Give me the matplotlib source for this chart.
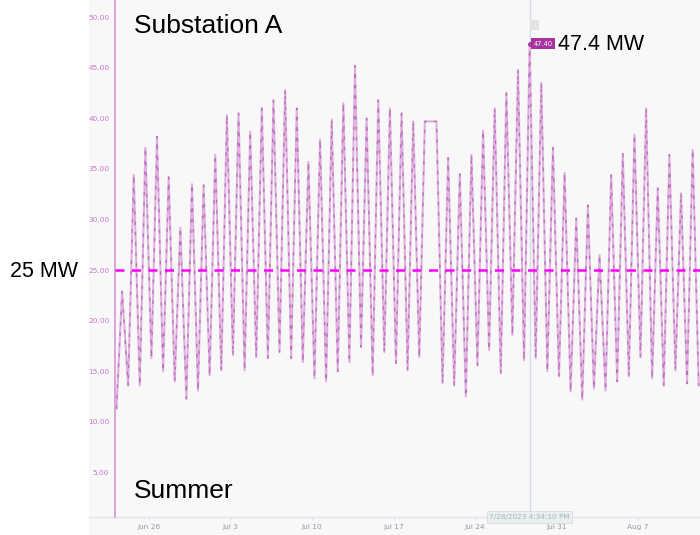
"""
substation load chart - summer 2023, substation A
daily peaks / troughs read off the trend screenshot
"""

import pandas as pd
import matplotlib
matplotlib.use('Agg')
import matplotlib.pyplot as plt
from matplotlib.patches import Rectangle

# daily low (early morning) Jun 23 .. Aug 12, MW
trough_mw = [11.3, 13.6, 13.6, 16.3, 15.0, 14.0, 12.3, 13.1,
             14.6, 15.1, 16.6, 15.1, 16.4, 16.3, 16.9, 16.3, 15.9, 14.3,
             14.0, 15.0, 15.9, 17.4, 14.6, 16.9, 15.8, 15.1, 16.4, 39.7,
             13.8, 13.6, 12.5, 15.6, 17.1, 14.8, 18.6, 16.1, 16.3, 15.0, 14.5,
             13.0, 12.2, 13.3, 13.1, 14.0, 14.5, 16.4, 14.3, 13.6, 15.1, 13.8, 13.6]

# daily high (afternoon) Jun 23 .. Aug 11, MW
peak_mw = [22.9, 34.4, 37.1, 38.2, 34.2, 29.2, 33.5, 33.4,
           36.4, 40.3, 40.5, 38.7, 41.0, 41.8, 42.8, 41.0, 35.7, 37.9,
           39.9, 41.5, 45.2, 40.0, 41.8, 41.0, 40.5, 39.7, 39.7, 39.7,
           36.1, 34.5, 36.4, 38.8, 41.0, 42.5, 44.8, 47.4, 43.5, 37.1, 34.6,
           30.1, 31.4, 26.5, 34.4, 36.5, 38.4, 41.0, 33.1, 36.4, 32.6, 36.9]

first_day = '2023-06-23'
tick_dates = ['2023-06-26', '2023-07-03', '2023-07-10', '2023-07-17',
              '2023-07-24', '2023-07-31', '2023-08-07']
tick_labels = ['Jun 26', 'Jul 3', 'Jul 10', 'Jul 17', 'Jul 24', 'Jul 31', 'Aug 7']
ytick_vals = [5, 10, 15, 20, 25, 30, 35, 40, 45, 50]

threshold_mw = 25
max_time = '2023-07-28 16:34:10'
max_mw = 47.4
max_stamp = '7/28/2023 4:34:10 PM'

# build the series: low at 5am, high at the time of the max reading
days = pd.date_range(first_day, periods=len(trough_mw), freq='D')
low_t = days + pd.Timedelta(hours=5)
high_t = days[:len(peak_mw)] + pd.Timedelta(hours=16, minutes=34)

t, v = [], []
for i in range(len(trough_mw)):
    t.append(low_t[i])
    v.append(trough_mw[i])
    if i < len(peak_mw):
        t.append(high_t[i])
        v.append(peak_mw[i])

fig = plt.figure(figsize=(7, 5.35), dpi=100)
fig.patch.set_facecolor('white')
# grey panel behind the trend (screenshot look)
fig.patches.append(Rectangle((89 / 700, 0), 1 - 89 / 700, 1, transform=fig.transFigure,
                             facecolor='#f8f8f8', edgecolor='none', zorder=0))

ax = fig.add_axes([115 / 700, 18 / 535, 585 / 700, 517 / 535])
ax.set_zorder(2)
ax.set_facecolor('#f8f8f8')

ax.plot(t, v, color='#deb0de', lw=1.5, zorder=3)
ax.plot(t, v, color='#a23ba2', lw=1.0, alpha=0.55, linestyle=(0, (2.5, 5)), zorder=4)

ax.axhline(threshold_mw, color='#ff00ff', lw=1.8, linestyle=(0, (3.6, 3)), zorder=5)

ax.set_xlim(pd.Timestamp('2023-06-23 01:55'), pd.Timestamp('2023-08-12 07:40'))
ax.set_ylim(0.6, 51.7)

ax.set_xticks([pd.Timestamp(d) for d in tick_dates])
ax.set_xticklabels(tick_labels)
ax.set_yticks(ytick_vals)
ax.set_yticklabels([f'{y:.2f}' for y in ytick_vals])
ax.tick_params(axis='y', length=0, pad=4, labelsize=5.3, labelcolor='#cc77cc')
ax.tick_params(axis='x', length=2, width=0.6, color='#d8d8e4', pad=3,
               labelsize=5.3, labelcolor='#999999')

for s in ['top', 'right', 'bottom']:
    ax.spines[s].set_visible(False)
ax.spines['left'].set_color('#dba3db')
ax.spines['left'].set_linewidth(1.4)
# bottom axis line runs under the y labels too
ax.plot([-26 / 585, 1], [0, 0], transform=ax.transAxes, color='#e3e3ee', lw=1,
        clip_on=False, zorder=2)

# cursor at the max reading
tmax = pd.Timestamp(max_time)
ax.axvline(tmax, color='#d3dbe6', lw=1, zorder=2)
ax.plot([tmax], [max_mw], 'o', color='#a23ba2', ms=2.5, zorder=6)
ax.annotate(f'{max_mw:.2f}', (tmax, max_mw), xytext=(3, 0), textcoords='offset points',
            ha='left', va='center', fontsize=4.8, color='white', zorder=7,
            bbox=dict(boxstyle='square,pad=0.35', fc='#a8329f', ec='none'))
ax.annotate('2', (tmax, 49.2), xytext=(2, 0), textcoords='offset points',
            ha='left', va='center', fontsize=4.5, color='#f0f0f0', zorder=7,
            bbox=dict(boxstyle='square,pad=0.4', fc='#e2e2e2', ec='none'))
ax.annotate(max_stamp, (tmax, 0.6), xytext=(0, 0), textcoords='offset points',
            ha='center', va='center', fontsize=5.2, color='#aab4b4', zorder=8,
            annotation_clip=False,
            bbox=dict(boxstyle='square,pad=0.35', fc='#e9eeee', ec='#d5dddd', lw=0.6))

font = 'Liberation Sans'
fig.text(134 / 700, 1 - 33 / 535, 'Substation A', fontsize=19, family=font,
         ha='left', va='baseline', zorder=5)
fig.text(134 / 700, 1 - 498 / 535, 'Summer', fontsize=19, family=font,
         ha='left', va='baseline', zorder=5)
fig.text(558 / 700, 1 - 50 / 535, f'{max_mw} MW', fontsize=15.5, family=font,
         ha='left', va='baseline', zorder=5)
fig.text(10 / 700, 1 - 277 / 535, f'{threshold_mw} MW', fontsize=15.5, family=font,
         ha='left', va='baseline', zorder=5)

fig.savefig('out.png', dpi=100)
plt.close(fig)
